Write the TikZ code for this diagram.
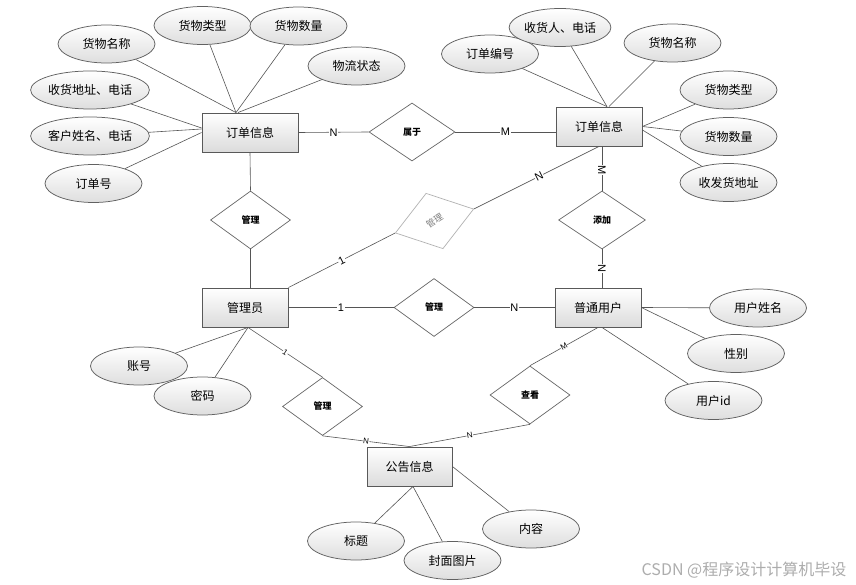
\documentclass[tikz,border=0pt]{standalone}
\usepackage{fontspec}
\setmainfont{Liberation Sans}
\newfontfamily\cjk{Noto Sans CJK SC}
\usetikzlibrary{shapes.geometric,shadows,calc}
\definecolor{lc}{HTML}{555555}
\tikzset{
  ent/.style={rectangle, draw=black!65, line width=0.9pt, top color=white, bottom color=black!14,
    minimum width=86pt, minimum height=39pt, inner sep=0pt,
    font=\cjk\fontsize{12}{14}\selectfont,
    drop shadow={shadow xshift=1.2pt, shadow yshift=-1.2pt, opacity=0.35, fill=black!60}},
  attr/.style={ellipse, draw=black!62, line width=0.75pt, top color=white, bottom color=black!13,
    minimum width=97pt, minimum height=38pt, inner sep=0pt,
    font=\cjk\fontsize{12}{14}\selectfont},
  rel/.style={diamond, draw=black!60, fill=white, line width=0.7pt,
    minimum width=80pt, minimum height=58pt, inner sep=0pt,
    font=\cjk\bfseries\fontsize{9}{10}\selectfont},
  con/.style={draw=lc, line width=0.6pt},
  card/.style={fill=white, inner sep=0.6pt, font=\fontsize{11}{12}\selectfont},
  cards/.style={fill=white, inner sep=0.4pt, font=\fontsize{8}{9}\selectfont},
}
\begin{document}
\begin{tikzpicture}[x=1pt,y=-1pt]
\useasboundingbox (0,0) rectangle (856,585);
\fill[white] (0,0) rectangle (856,585);

% entities
\node[ent, minimum width=96pt] (o1) at (250,132.5) {订单信息};
\node[ent] (o2) at (599,126.5) {订单信息};
\node[ent] (m) at (245,307.5) {管理员};
\node[ent] (u) at (598,307.5) {普通用户};
\node[ent, minimum width=85pt] (n) at (409.5,466.5) {公告信息};

% relationships
\node[rel, minimum width=86pt] (r1) at (412,132) {属于};
\node[rel] (d1) at (250.5,220) {管理};
\node[rel, minimum width=87pt] (d2) at (602,220) {添加};
\node[rel] (d3) at (434,307.5) {管理};
\node[rel] (d4) at (322.5,406.5) {管理};
\node[rel] (d5) at (530,395) {查看};
\node[rel, draw=black!30, text=black!50, font=\cjk\fontsize{9}{10}\selectfont, rotate=17, minimum width=82pt] (g) at (434.5,221) {\rotatebox{16}{管理}};

% attributes of left order
\node[attr] (a1) at (106.5,44) {货物名称};
\node[attr] (a2) at (202.5,25.5) {货物类型};
\node[attr] (a3) at (298.5,26) {货物数量};
\node[attr] (a4) at (356.5,66) {物流状态};
\node[attr] (a5) at (90,90) {收货地址、电话};
\node[attr] (a6) at (90,136) {客户姓名、电话};
\node[attr] (a7) at (93.5,183.5) {订单号};

% attributes of right order
\node[attr] (b1) at (490,54) {订单编号};
\node[attr] (b2) at (560,27.5) {收货人、电话};
\node[attr] (b3) at (672.5,43) {货物名称};
\node[attr] (b4) at (728.5,90) {货物类型};
\node[attr] (b5) at (728.5,136.5) {货物数量};
\node[attr] (b6) at (728.5,182.5) {收发货地址};

% attributes of admin
\node[attr] (c1) at (139,366) {账号};
\node[attr] (c2) at (202.5,396) {密码};

% attributes of user
\node[attr] (e1) at (758,308) {用户姓名};
\node[attr] (e2) at (736,353.5) {性别};
\node[attr] (e3) at (713.5,400.5) {用户id};

% attributes of notice
\node[attr] (f1) at (356,541) {标题};
\node[attr] (f2) at (452.5,560.5) {封面图片};
\node[attr] (f3) at (531,529) {内容};

% helper coordinates
\coordinate (o1t) at ($(o1.north)+(-14,0)$);
\coordinate (o1l1) at ($(o1.west)+(0,-4.5)$);
\coordinate (o1l2) at ($(o1.west)+(0,-3.5)$);
\coordinate (o2t) at ($(o2.north)+(8,0)$);
\coordinate (o2t2) at ($(o2.north)+(10,0)$);
\coordinate (o2r2) at ($(o2.east)+(0,3.5)$);
\coordinate (o2b) at ($(o2.south)+(3,0)$);
\coordinate (mb) at ($(m.south)+(3,0)$);
\coordinate (ub) at ($(u.south)+(4,0)$);
\coordinate (nb) at ($(n.south)+(3.5,0)$);

% attribute connectors
\draw[con] (a1) -- (o1t);
\draw[con] (a2) -- (o1t);
\draw[con] (a3) -- (o1t);
\draw[con] (a4) -- ($(o1t)+(2,0)$);
\draw[con] (a5) -- (o1l1);
\draw[con] (a6) -- (o1l2);
\draw[con] (a7) -- (o1.west);
\draw[con] (b1) -- (o2t);
\draw[con] (b2) -- (o2t);
\draw[con] (b3) -- (o2t2);
\draw[con] (b4) -- (o2.east);
\draw[con] (b5) -- (o2.east);
\draw[con] (b6) -- (o2r2);
\draw[con] (c1) -- (mb);
\draw[con] (c2) -- (mb);
\draw[con] (e1) -- (u.east);
\draw[con] (e2) -- (u.east);
\draw[con] (e3) -- (ub);
\draw[con] (f1) -- (nb);
\draw[con] (f2) -- (nb);
\draw[con] (f3) -- (n.east);

% relationship connectors
\draw[con] (o1.east) -- node[card]{N} (r1.west);
\draw[con] (r1.east) -- node[card]{M} (r1.east -| o2.west);
\draw[con] (o1.south) -- (d1.north);
\draw[con] (d1.south) -- (d1.south |- m.north);
\draw[con] (m.north east) -- node[card, sloped]{1} (g.west);
\draw[con] (g.east) -- node[card, sloped, pos=0.52]{N} (o2.south);
\draw[con] (o2b) -- node[card, sloped, pos=0.53]{M} (d2.north);
\draw[con] (d2.south) -- node[card, sloped]{N} (d2.south |- u.north);
\draw[con] (m.east) -- node[card]{1} (d3.west);
\draw[con] (d3.east) -- node[card]{N} (u.west);
\draw[con] (mb) -- node[cards, sloped]{1} (d4.north);
\draw[con] (d4.south) -- node[cards, sloped]{N} (n.north);
\draw[con] (d5.south) -- node[cards, sloped]{N} (n.north);
\draw[con] (u.south) -- node[cards, sloped]{M} (d5.north);

% watermark
\node[font=\cjk\fontsize{16}{18}\selectfont, text=black!32, inner sep=0pt] (wm) at (744,570.5) {CSDN @程序设计计算机毕设};
\end{tikzpicture}
\end{document}
